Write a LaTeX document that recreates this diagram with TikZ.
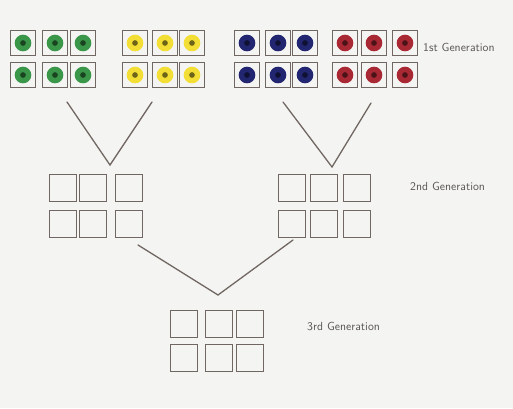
\documentclass[tikz,border=0pt]{standalone}
\usepackage{xcolor}
\usepackage{tikz}
\usetikzlibrary{positioning,calc}

\definecolor{paper}{RGB}{244,244,242}
\definecolor{penline}{RGB}{112,102,98}
\definecolor{inkgray}{RGB}{88,84,84}
\definecolor{beadgreen}{RGB}{58,150,72}
\definecolor{beadyellow}{RGB}{242,222,52}
\definecolor{beadblue}{RGB}{34,38,112}
\definecolor{beadred}{RGB}{168,40,52}

\tikzset{
  cell/.style={draw=penline, line width=0.7pt, minimum size=0.73cm, inner sep=0pt},
  bigcell/.style={cell, minimum size=0.8cm},
  branch/.style={draw=penline, line width=1.1pt, line cap=round, line join=miter},
  genlabel/.style={font=\sffamily, anchor=west, text=inkgray, inner sep=0pt}
}

\begin{document}
\begin{tikzpicture}[x=0.03cm, y=-0.03cm]
\fill[paper] (0,0) rectangle (513,408);
\useasboundingbox (0,0) rectangle (513,408);

% first generation, two rows of beads
\foreach \cx/\beadcol [count=\k] in {23/beadgreen,55/beadgreen,83/beadgreen,
    135/beadyellow,165/beadyellow,192/beadyellow,
    247/beadblue,278/beadblue,305/beadblue,
    345/beadred,374/beadred,405/beadred}
  \foreach \cy [count=\r] in {43,75} {
    \node[cell] (first-\r-\k) at (\cx,\cy) {};
    \fill[\beadcol] (first-\r-\k.center) circle (0.25cm);
    \fill[\beadcol!45!black] (first-\r-\k.center) circle (0.085cm);
  }

% second generation
\foreach \cx [count=\k] in {63,93,129,292,324,357}
  \foreach \cy [count=\r] in {188,224}
    \node[bigcell] (second-\r-\k) at (\cx,\cy) {};

% third generation
\foreach \cx [count=\k] in {184,219,250}
  \foreach \cy [count=\r] in {324,358}
    \node[bigcell] (third-\r-\k) at (\cx,\cy) {};

\node[genlabel] (lblfirst)  at (423,47)  {1st Generation};
\node[genlabel] (lblsecond) at (410,186) {2nd Generation};
\node[genlabel] (lblthird)  at (307,326) {3rd Generation};

% crossing lines
\coordinate (leftA)  at (67,102);
\coordinate (tipA)   at (110,165);
\coordinate (rightA) at (152,102);
\coordinate (leftB)  at (283,102);
\coordinate (tipB)   at (332,167);
\coordinate (rightB) at (371,103);
\coordinate (leftC)  at (138,245);
\coordinate (tipC)   at (218,295);
\coordinate (rightC) at (293,240);
\draw[branch] (leftA) -- (tipA) -- (rightA);
\draw[branch] (leftB) -- (tipB) -- (rightB);
\draw[branch] (leftC) -- (tipC) -- (rightC);
\end{tikzpicture}
\end{document}
